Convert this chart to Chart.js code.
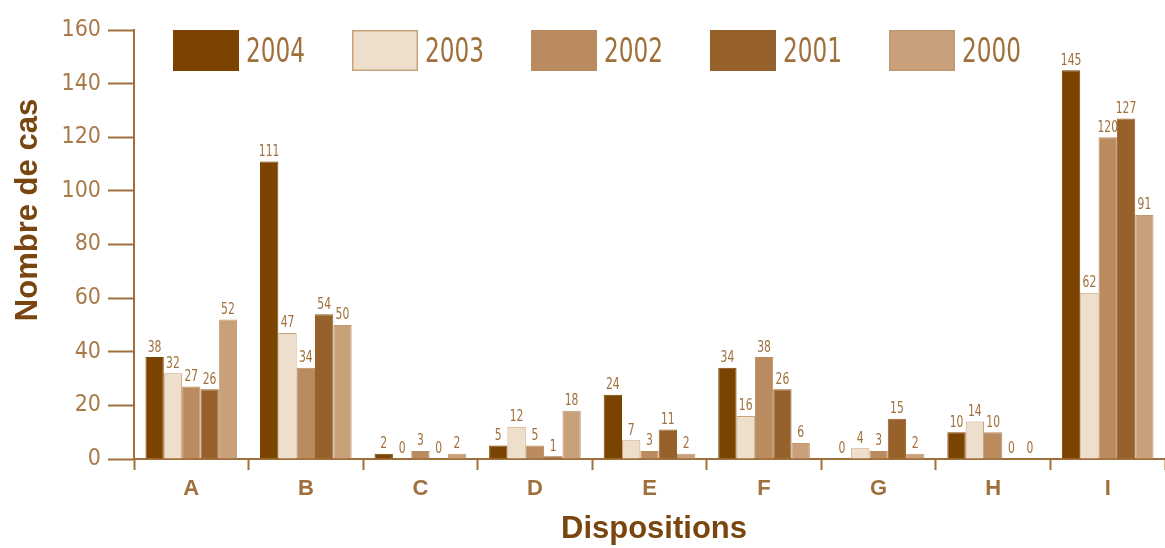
<!DOCTYPE html>
<html>
<head>
<meta charset="utf-8">
<script src="https://cdn.jsdelivr.net/npm/chart.js@4/dist/chart.umd.min.js"></script>
<style>
  html, body { margin: 0; padding: 0; background: #fff; }
  #wrap { width: 1165px; height: 548px; }
</style>
</head>
<body>
<div id="wrap"><canvas id="dispo" width="1165" height="548"></canvas></div>
<script>
let categories = ['A', 'B', 'C', 'D', 'E', 'F', 'G', 'H', 'I']
let years = ['2004', '2003', '2002', '2001', '2000']
let cas2004 = [38, 111, 2, 5, 24, 34, 0, 10, 145]
let cas2003 = [32, 47, 0, 12, 7, 16, 4, 14, 62]
let cas2002 = [27, 34, 3, 5, 3, 38, 3, 10, 120]
let cas2001 = [26, 54, 0, 1, 11, 26, 15, 0, 127]
let cas2000 = [52, 50, 2, 18, 2, 6, 2, 0, 91]
let yTicks = [0, 20, 40, 60, 80, 100, 120, 140, 160]

let fills = ['#7a4400', '#eedfcc', '#b98b5e', '#96612b', '#c8a07a']
let edges = ['#7a4400', '#c9a27a', '#b98b5e', '#96612b', '#c29870']
let brown = '#a0703c'
let dark = '#7a4610'
let narrow = "'DejaVu Sans Condensed', 'Liberation Sans Narrow', sans-serif"

let series = [cas2004, cas2003, cas2002, cas2001, cas2000]

// squeezed text, the original uses a condensed face
function narrowText(ctx, txt, x, y, squeeze) {
    ctx.save()
    ctx.translate(x, y)
    ctx.scale(squeeze, 1)
    ctx.fillText(txt, 0, 0)
    ctx.restore()
}

// value above each bar
let barLabels = {
    id: 'barLabels',
    afterDatasetsDraw(chart) {
        let ctx = chart.ctx
        ctx.save()
        ctx.font = '15px ' + narrow
        ctx.fillStyle = brown
        ctx.textAlign = 'center'
        ctx.textBaseline = 'bottom'
        chart.data.datasets.forEach((ds, i) => {
            chart.getDatasetMeta(i).data.forEach((bar, j) => {
                narrowText(ctx, ds.data[j], bar.x, bar.y - 2, 0.8)
            })
        })
        ctx.restore()
    }
}

// legend row at the top and the two axis titles
let decor = {
    id: 'decor',
    afterDraw(chart) {
        let ctx = chart.ctx
        ctx.save()
        chart.data.datasets.forEach((ds, i) => {
            let x = 173 + i * 179
            ctx.fillStyle = ds.backgroundColor
            ctx.fillRect(x, 30, 66, 41)
            ctx.strokeStyle = ds.borderColor
            ctx.lineWidth = 1.5
            ctx.strokeRect(x + 0.75, 30.75, 64.5, 39.5)
            ctx.fillStyle = brown
            ctx.font = '33px ' + narrow
            ctx.textAlign = 'left'
            ctx.textBaseline = 'middle'
            narrowText(ctx, ds.label, x + 73, 53, 0.78)
        })
        ctx.fillStyle = dark
        ctx.font = 'bold 31px "Liberation Sans", Arial, sans-serif'
        ctx.textAlign = 'center'
        ctx.textBaseline = 'middle'
        ctx.fillText('Dispositions', 654, 529)
        ctx.translate(28, 210)
        ctx.rotate(-Math.PI / 2)
        ctx.fillText('Nombre de cas', 0, 0)
        ctx.restore()
    }
}

let chart = new Chart(document.getElementById('dispo').getContext('2d'), {
    type: 'bar',
    data: {
        labels: categories,
        datasets: series.map((d, i) => ({
            label: years[i],
            data: d,
            backgroundColor: fills[i],
            borderColor: edges[i],
            borderWidth: 1,
            categoryPercentage: 0.8,
            barPercentage: 1.0
        }))
    },
    options: {
        responsive: false,
        animation: false,
        layout: { padding: { top: 30, right: 0, left: 0, bottom: 0 } },
        plugins: {
            legend: { display: false },
            tooltip: { enabled: false }
        },
        scales: {
            x: {
                afterFit(scale) { scale.height = 89 },
                border: { color: brown, width: 2 },
                grid: {
                    offset: true,
                    drawOnChartArea: false,
                    tickLength: 11,
                    tickWidth: 2,
                    color: brown
                },
                ticks: {
                    color: brown,
                    padding: 6,
                    font: { family: '"Liberation Sans", Arial, sans-serif', size: 22, weight: 'bold' }
                }
            },
            y: {
                min: 0,
                max: 160,
                afterFit(scale) { scale.width = 134 },
                afterBuildTicks(scale) { scale.ticks = yTicks.map(v => ({ value: v })) },
                border: { color: brown, width: 2 },
                grid: {
                    drawOnChartArea: false,
                    tickLength: 26,
                    tickWidth: 2,
                    color: brown
                },
                ticks: {
                    color: '#a87a4a',
                    padding: 7,
                    font: { family: narrow, size: 23 }
                }
            }
        }
    },
    plugins: [barLabels, decor]
})
</script>
</body>
</html>
